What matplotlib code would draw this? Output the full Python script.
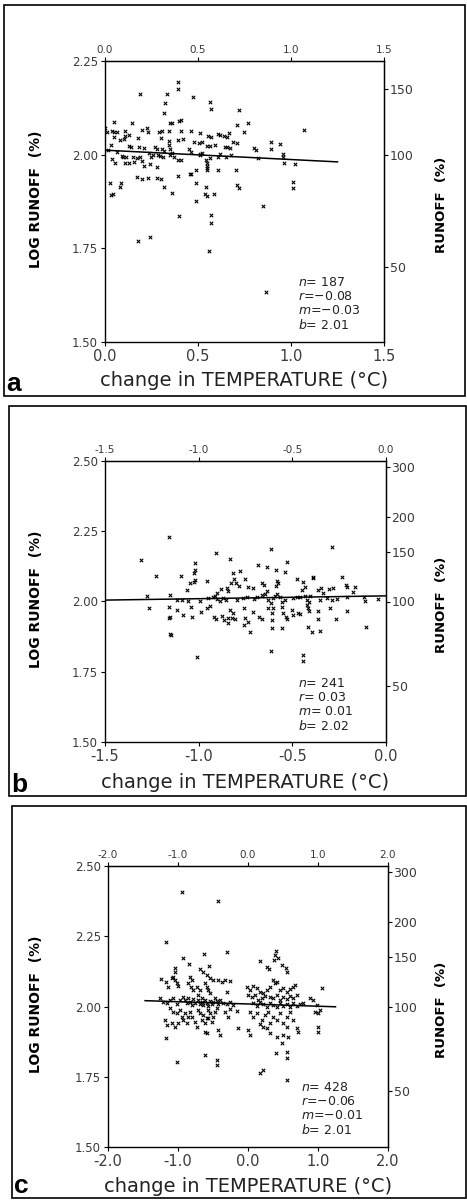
"""
Runoff vs change in temperature: three scatter panels (a, b, c)
"""

import numpy as np
import matplotlib
matplotlib.use("Agg")
import matplotlib.pyplot as plt
from matplotlib.patches import Rectangle


# DATA  (temperature change in degC, log10 runoff in %)

pts_a = [
    (0.39, 2.195), (0.39, 2.175), (0.19, 2.162), (0.335, 2.161), (0.475, 2.153), (0.565, 2.141),
    (0.325, 2.139), (0.57, 2.123), (0.72, 2.118), (0.315, 2.112), (0.05, 2.086), (0.145, 2.084),
    (0.35, 2.084), (0.36, 2.085), (0.40, 2.09), (0.41, 2.093), (0.71, 2.078), (0.77, 2.084),
    (1.07, 2.066), (0.225, 2.072), (0.2, 2.066), (0.04, 2.063), (0.05, 2.061), (0.065, 2.06),
    (0.11, 2.063), (0.13, 2.053), (0.23, 2.06), (0.29, 2.06), (0.305, 2.063), (0.345, 2.062),
    (0.41, 2.062), (0.46, 2.062), (0.51, 2.057), (0.555, 2.05), (0.57, 2.046), (0.61, 2.056),
    (0.62, 2.052), (0.64, 2.05), (0.655, 2.046), (0.665, 2.059), (0.745, 2.061), (0.05, 2.046),
    (0.08, 2.039), (0.1, 2.041), (0.11, 2.05), (0.18, 2.044), (0.3, 2.045), (0.345, 2.036),
    (0.345, 2.026), (0.39, 2.039), (0.42, 2.041), (0.48, 2.035), (0.505, 2.032), (0.52, 2.035),
    (0.55, 2.023), (0.59, 2.026), (0.565, 2.023), (0.645, 2.021), (0.655, 2.02), (0.67, 2.017),
    (0.69, 2.033), (0.71, 2.032), (0.8, 2.017), (0.81, 2.012), (0.89, 2.033), (0.94, 2.028),
    (0.89, 2.014), (0.03, 2.026), (0.13, 2.023), (0.14, 2.021), (0.185, 2.02), (0.21, 2.017),
    (0.27, 2.021), (0.28, 2.016), (0.305, 2.016), (0.315, 2.011), (0.35, 2.014), (0.36, 2.004),
    (0.35, 1.999), (0.37, 1.995), (0.45, 2.014), (0.46, 2.008), (0.51, 2.002), (0.51, 1.999),
    (0.52, 2.004), (0.605, 1.995), (0.62, 2.001), (0.82, 1.992), (0.955, 2.001), (0.955, 1.995),
    (0.015, 2.012), (0.063, 2.007), (0.09, 1.996), (0.095, 1.995), (0.115, 1.993), (0.15, 1.995),
    (0.17, 1.99), (0.19, 1.995), (0.235, 2.004), (0.245, 1.995), (0.26, 1.998), (0.285, 1.999),
    (0.295, 1.996), (0.31, 1.995), (0.395, 1.986), (0.41, 1.986), (0.545, 1.986), (0.55, 1.979),
    (0.565, 1.99), (0.65, 1.995), (0.675, 1.999), (0.04, 1.988), (0.055, 1.977), (0.11, 1.977),
    (0.13, 1.979), (0.155, 1.98), (0.2, 1.984), (0.24, 1.975), (0.21, 1.97), (0.28, 1.968),
    (0.49, 1.959), (0.455, 1.948), (0.55, 1.97), (0.55, 1.964), (0.547, 1.959), (0.61, 1.959),
    (0.705, 1.959), (0.965, 1.977), (1.02, 1.975), (0.17, 1.941), (0.2, 1.934), (0.23, 1.939),
    (0.28, 1.937), (0.3, 1.936), (0.395, 1.943), (0.46, 1.948), (0.027, 1.925), (0.085, 1.925),
    (0.08, 1.915), (0.315, 1.913), (0.36, 1.899), (0.49, 1.925), (0.545, 1.915), (0.535, 1.894),
    (0.547, 1.89), (0.588, 1.894), (0.71, 1.919), (0.72, 1.912), (1.013, 1.928), (1.013, 1.912),
    (0.032, 1.892), (0.041, 1.894), (0.49, 1.877), (0.85, 1.863), (0.40, 1.837), (0.57, 1.839),
    (0.57, 1.817), (0.175, 1.770), (0.24, 1.78), (0.56, 1.742), (0.865, 1.633), (0.0, 2.07),
    (0.01, 2.06),
]

pts_b = [
    (-1.158, 2.231), (-1.308, 2.148), (-0.907, 2.171), (-0.614, 2.188), (-0.29, 2.193), (-0.831, 2.15),
    (-0.53, 2.142), (-1.018, 2.136), (-1.018, 2.112), (-1.023, 2.1), (-1.018, 2.077), (-1.025, 2.071),
    (-0.681, 2.13), (-0.637, 2.124), (-0.589, 2.112), (-0.539, 2.104), (-1.228, 2.092), (-1.096, 2.091),
    (-1.046, 2.065), (-1.064, 2.041), (-0.954, 2.073), (-0.815, 2.103), (-0.779, 2.108), (-0.81, 2.079),
    (-0.8, 2.065), (-0.783, 2.055), (-0.753, 2.079), (-0.735, 2.053), (-0.708, 2.047), (-0.83, 2.065),
    (-0.85, 2.047), (-0.843, 2.039), (-0.881, 2.045), (-0.9, 2.029), (-0.913, 2.02), (-0.663, 2.067),
    (-0.651, 2.059), (-0.637, 2.039), (-0.584, 2.074), (-0.578, 2.065), (-0.589, 2.055), (-0.473, 2.079),
    (-0.441, 2.071), (-0.432, 2.053), (-0.45, 2.041), (-0.391, 2.088), (-0.388, 2.082), (-0.361, 2.041),
    (-0.349, 2.047), (-0.334, 2.029), (-0.302, 2.043), (-0.281, 2.047), (-0.233, 2.088), (-0.213, 2.057),
    (-0.21, 2.053), (-0.164, 2.053), (-0.174, 2.035), (-1.278, 2.02), (-1.153, 2.023), (-1.117, 2.005),
    (-1.091, 2.005), (-1.059, 2.0), (-0.993, 2.0), (-0.948, 2.011), (-0.922, 2.015), (-0.904, 2.008),
    (-0.886, 2.003), (-0.868, 2.014), (-0.854, 2.005), (-0.797, 2.005), (-0.762, 2.011), (-0.744, 2.017),
    (-0.703, 2.008), (-0.69, 2.017), (-0.663, 2.023), (-0.646, 2.027), (-0.628, 2.005), (-0.615, 1.996),
    (-0.605, 2.011), (-0.593, 2.02), (-0.584, 2.027), (-0.566, 2.015), (-0.557, 1.999), (-0.539, 2.005),
    (-0.495, 2.011), (-0.477, 2.017), (-0.459, 2.015), (-0.432, 2.02), (-0.424, 2.005), (-0.409, 1.999),
    (-0.406, 2.02), (-0.352, 2.005), (-0.317, 2.014), (-0.29, 2.005), (-0.263, 2.008), (-0.21, 2.015),
    (-0.117, 2.015), (-0.112, 2.003), (-0.041, 2.008), (-1.263, 1.976), (-1.157, 1.982), (-1.153, 1.946),
    (-1.157, 1.94), (-1.114, 1.97), (-1.082, 1.952), (-1.043, 1.979), (-1.037, 1.946), (-0.989, 1.964),
    (-0.957, 1.976), (-0.939, 1.984), (-0.916, 1.946), (-0.907, 1.937), (-0.877, 1.948), (-0.863, 1.934),
    (-0.842, 1.94), (-0.833, 1.97), (-0.818, 1.958), (-0.806, 1.937), (-0.758, 1.976), (-0.753, 1.94),
    (-0.758, 1.916), (-0.735, 1.928), (-0.708, 1.964), (-0.676, 1.946), (-0.663, 1.937), (-0.628, 1.976),
    (-0.61, 1.96), (-0.601, 1.976), (-0.61, 1.934), (-0.557, 1.979), (-0.548, 1.958), (-0.534, 1.946),
    (-0.527, 1.937), (-0.504, 1.97), (-0.495, 1.952), (-0.468, 1.958), (-0.459, 1.955), (-0.424, 1.988),
    (-0.415, 1.976), (-0.409, 1.967), (-0.361, 1.967), (-0.299, 1.976), (-0.207, 1.966), (-0.361, 1.937),
    (-0.267, 1.937), (-0.726, 1.893), (-0.607, 1.905), (-0.553, 1.905), (-0.418, 1.91), (-0.397, 1.893),
    (-0.352, 1.896), (-0.842, 1.924), (-0.824, 1.94), (-0.108, 1.91), (-1.153, 1.886), (-1.149, 1.88),
    (-1.011, 1.804), (-0.614, 1.825), (-0.441, 1.81), (-0.441, 1.789),
]

pts_c = [
    (-0.938, 2.409), (-0.424, 2.377), (-1.176, 2.231), (-0.629, 2.187), (-0.305, 2.195), (-0.924, 2.174),
    (-0.552, 2.144), (-0.848, 2.151), (-1.043, 2.136), (-1.043, 2.124), (0.4, 2.199), (0.39, 2.183),
    (0.367, 2.165), (0.424, 2.171), (0.176, 2.163), (0.481, 2.148), (0.543, 2.136), (0.552, 2.124),
    (0.267, 2.142), (0.305, 2.132), (1.052, 2.067), (-1.248, 2.097), (-1.176, 2.088), (-1.148, 2.071),
    (-1.09, 2.1), (-1.067, 2.106), (-1.043, 2.094), (-1.019, 2.083), (-0.995, 2.073), (-0.829, 2.106),
    (-0.805, 2.094), (-0.852, 2.083), (-0.819, 2.071), (-0.781, 2.059), (-0.686, 2.132), (-0.638, 2.124),
    (-0.59, 2.112), (-0.543, 2.1), (-0.495, 2.094), (-0.614, 2.083), (-0.59, 2.071), (-0.567, 2.059),
    (-0.543, 2.047), (-0.424, 2.094), (-0.376, 2.088), (-0.329, 2.094), (-0.257, 2.092), (-0.295, 2.053),
    (-0.733, 2.071), (-0.686, 2.059), (-0.719, 2.041), (-0.662, 2.029), (-1.257, 2.029), (-1.21, 2.017),
    (-1.162, 2.011), (-1.114, 2.023), (-1.067, 2.029), (-1.019, 2.009), (-0.971, 2.023), (-0.924, 2.035),
    (-0.9, 2.023), (-0.876, 2.011), (-0.852, 2.029), (-0.829, 2.017), (-0.805, 2.005), (-0.781, 2.025),
    (-0.757, 2.014), (-0.71, 2.023), (-0.686, 2.009), (-0.662, 2.017), (-0.638, 2.005), (-0.614, 2.023),
    (-0.59, 2.011), (-0.567, 2.002), (-0.543, 2.021), (-0.519, 2.009), (-0.495, 2.017), (-0.471, 2.029),
    (-0.448, 2.021), (-0.424, 2.009), (-0.4, 2.023), (-0.352, 2.014), (-0.305, 2.009), (-0.257, 2.017),
    (-0.21, 2.005), (-1.114, 1.993), (-1.067, 1.982), (-1.019, 1.976), (-0.971, 1.988), (-0.948, 1.964),
    (-0.924, 1.952), (-0.9, 1.976), (-0.876, 1.94), (-0.852, 1.964), (-0.829, 1.982), (-1.186, 1.952),
    (-1.162, 1.934), (-1.09, 1.94), (-1.043, 1.928), (-0.995, 1.94), (-0.805, 1.964), (-0.757, 1.946),
    (-0.733, 1.928), (-0.71, 1.988), (-0.686, 1.976), (-0.662, 1.952), (-0.638, 1.97), (-0.614, 1.94),
    (-0.59, 1.958), (-0.567, 1.988), (-0.543, 1.976), (-0.519, 1.946), (-0.495, 1.964), (-0.471, 1.982),
    (-0.448, 1.993), (-0.614, 1.91), (-0.581, 1.904), (-0.424, 1.916), (-0.4, 1.898), (-0.567, 1.958),
    (-0.329, 1.982), (-0.281, 1.964), (-0.257, 1.99), (-0.162, 1.985), (-1.167, 1.887), (-1.019, 1.804),
    (-0.614, 1.828), (-0.448, 1.81), (-0.448, 1.792), (-0.019, 2.071), (0.029, 2.059), (0.076, 2.073),
    (0.124, 2.065), (0.171, 2.053), (0.219, 2.047), (0.267, 2.059), (0.314, 2.068), (0.005, 2.041),
    (0.052, 2.033), (0.1, 2.041), (0.148, 2.023), (0.195, 2.029), (0.243, 2.037), (0.362, 2.094),
    (0.41, 2.088), (0.386, 2.083), (0.457, 2.059), (0.505, 2.065), (0.552, 2.053), (0.6, 2.061),
    (0.648, 2.071), (0.671, 2.076), (0.314, 2.035), (0.362, 2.029), (0.41, 2.041), (0.457, 2.023),
    (0.505, 2.035), (0.552, 2.025), (0.6, 2.037), (0.648, 2.029), (0.695, 2.041), (0.076, 2.011),
    (0.124, 2.002), (0.171, 2.017), (0.219, 2.009), (0.267, 1.999), (0.314, 2.014), (0.362, 2.005),
    (0.41, 1.997), (0.457, 2.011), (0.505, 2.002), (0.552, 2.009), (0.6, 1.999), (0.648, 2.011),
    (0.695, 2.002), (0.743, 2.009), (0.79, 2.014), (0.886, 2.029), (0.924, 2.023), (0.981, 2.005),
    (0.957, 1.982), (1.029, 1.988), (1.005, 1.976), (0.029, 1.982), (0.076, 1.964), (0.124, 1.976),
    (0.195, 1.952), (0.243, 1.97), (0.29, 1.982), (0.314, 1.94), (0.362, 1.964), (0.41, 1.952),
    (0.457, 1.976), (0.505, 1.94), (0.552, 1.964), (0.6, 1.982), (0.648, 1.952), (-0.138, 1.922),
    (0.005, 1.916), (0.029, 1.899), (0.176, 1.937), (0.219, 1.928), (0.267, 1.922), (0.314, 1.904),
    (0.41, 1.893), (0.505, 1.899), (0.552, 1.928), (0.576, 1.893), (0.695, 1.922), (0.719, 1.91),
    (1.005, 1.928), (1.005, 1.91), (0.481, 1.869), (0.4, 1.836), (0.552, 1.839), (0.562, 1.815),
    (0.176, 1.764), (0.219, 1.774), (0.552, 1.74),
]

# regression lines: (x start, x end, intercept, slope) as drawn
line_a = (0.0, 1.25, 2.012, -0.025)
line_b = (-1.5, 0.0, 2.020, 0.010)
line_c = (-1.47, 1.25, 2.009, -0.008)

stats_a = [" 187", "\u22120.08", "\u22120.03", " 2.01"]
stats_b = [" 241", " 0.03", " 0.01", " 2.02"]
stats_c = [" 428", "\u22120.06", "\u22120.01", " 2.01"]

xticks_a = [0.0, 0.5, 1.0, 1.5]
xticks_b = [-1.5, -1.0, -0.5, 0.0]
xticks_c = [-2.0, -1.0, 0.0, 1.0, 2.0]
yticks_a = [1.50, 1.75, 2.00, 2.25]
yticks_bc = [1.50, 1.75, 2.00, 2.25, 2.50]
rticks_a = [50, 100, 150]
rticks_bc = [50, 100, 150, 200, 300]


# LAYOUT (pixel boxes of the 467x1200 page)
W, H = 467, 1200

def fx(x):
    return x / W

def fy(y):
    return 1 - y / H

panels = [
    dict(pts=pts_a, line=line_a, stats=stats_a, letter="a", ax=(105, 61, 384, 342),
         box=(4, 5, 465, 396), xlim=(0, 1.5), xticks=xticks_a, ylim=(1.5, 2.25),
         yticks=yticks_a, rticks=rticks_a, letter_y=391, xlab_y=381, stat_y=276),
    dict(pts=pts_b, line=line_b, stats=stats_b, letter="b", ax=(105, 461, 386, 742),
         box=(9, 406, 466, 796), xlim=(-1.5, 0), xticks=xticks_b, ylim=(1.5, 2.5),
         yticks=yticks_bc, rticks=rticks_bc, letter_y=792, xlab_y=782, stat_y=677),
    dict(pts=pts_c, line=line_c, stats=stats_c, letter="c", ax=(108, 866, 388, 1147),
         box=(12, 806, 466, 1198), xlim=(-2, 2), xticks=xticks_c, ylim=(1.5, 2.5),
         yticks=yticks_bc, rticks=rticks_bc, letter_y=1193, xlab_y=1187, stat_y=1081),
]

tick_col = "#3a3a3a"

fig = plt.figure(figsize=(W / 100, H / 100), dpi=100)

for p in panels:
    x0, y0, x1, y1 = p["ax"]
    ax = fig.add_axes([fx(x0), fy(y1), fx(x1) - fx(x0), fy(y0) - fy(y1)])

    t, lr = np.array(p["pts"]).T
    ax.scatter(t, lr, marker="x", s=6, color="black", linewidths=0.8, zorder=3)

    xa, xb, b0, m0 = p["line"]
    xs = np.array([xa, xb])
    ax.plot(xs, b0 + m0 * xs, color="black", linewidth=1.1, zorder=2)

    ax.set_xlim(*p["xlim"])
    ax.set_ylim(*p["ylim"])
    ax.set_xticks(p["xticks"])
    ax.set_xticklabels(["%.1f" % v for v in p["xticks"]])
    ax.set_yticks(p["yticks"])
    ax.set_yticklabels(["%.2f" % v for v in p["yticks"]])
    ax.tick_params(axis="both", direction="out", length=3, width=0.8, colors="black",
                   labelcolor=tick_col)
    ax.tick_params(axis="x", labelsize=10.5, pad=2)
    ax.tick_params(axis="y", labelsize=8.5, pad=2)

    # top labels are smaller than the bottom ones
    sec_top = ax.secondary_xaxis("top")
    sec_top.set_xticks(p["xticks"])
    sec_top.set_xticklabels(["%.1f" % v for v in p["xticks"]])
    sec_top.tick_params(direction="out", length=3, width=0.8, labelsize=7.5,
                        labelcolor=tick_col, pad=1)

    sec = ax.secondary_yaxis("right", functions=(lambda y: 10 ** y, np.log10))
    sec.set_yticks(p["rticks"])
    sec.set_yticklabels([str(v) for v in p["rticks"]])
    sec.tick_params(direction="out", length=3, width=0.8, labelsize=9,
                    labelcolor=tick_col, pad=1)

    for s in ax.spines.values():
        s.set_linewidth(1.0)

    # stats box
    names = ["n", "r", "m", "b"]
    txt = "\n".join(r"$%s$=%s" % (n, v) for n, v in zip(names, p["stats"]))
    fig.text(fx(x0 + 193), fy(p["stat_y"]), txt, ha="left", va="top", fontsize=9,
             linespacing=1.1, color="#222222")

    # axis titles
    ymid = (y0 + y1) / 2
    fig.text(fx(36), fy(ymid - 2), "LOG RUNOFF  (%)", rotation=90, ha="center", va="center",
             fontsize=10, fontweight="bold")
    fig.text(fx(441), fy(ymid + 3), "RUNOFF  (%)", rotation=90, ha="center", va="center",
             fontsize=9.5, fontweight="bold")
    fig.text(fx((x0 + x1) / 2), fy(p["xlab_y"]), "change in TEMPERATURE (\u00b0C)",
             ha="center", va="center", fontsize=14, color="#222222")
    fig.text(fx(p["box"][0] + 2), fy(p["letter_y"]), p["letter"], ha="left", va="baseline",
             fontsize=19, fontweight="bold", family="Liberation Sans")

    # panel frame
    bx0, by0, bx1, by1 = p["box"]
    fig.patches.append(Rectangle((fx(bx0), fy(by1)), fx(bx1) - fx(bx0), fy(by0) - fy(by1),
                                 transform=fig.transFigure, fill=False, edgecolor="black",
                                 linewidth=1.2))

fig.savefig("out.png", dpi=100)
